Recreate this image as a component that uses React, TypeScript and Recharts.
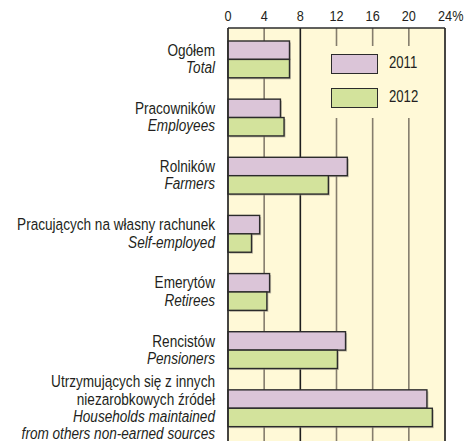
import React from "react";
import {
  BarChart,
  Bar,
  XAxis,
  YAxis,
  CartesianGrid,
  ReferenceLine,
  Legend,
} from "recharts";

const categories = [
  "total",
  "employees",
  "farmers",
  "selfEmployed",
  "retirees",
  "pensioners",
  "others",
];

const labelsPl = [
  ["Ogółem"],
  ["Pracowników"],
  ["Rolników"],
  ["Pracujących na własny rachunek"],
  ["Emerytów"],
  ["Rencistów"],
  ["Utrzymujących się z innych", "niezarobkowych źródeł"],
];

const labelsEn = [
  ["Total"],
  ["Employees"],
  ["Farmers"],
  ["Self-employed"],
  ["Retirees"],
  ["Pensioners"],
  ["Households maintained", "from others non-earned sources"],
];

const values2011 = [6.8, 5.8, 13.2, 3.5, 4.6, 13.0, 22.0];
const values2012 = [6.8, 6.2, 11.1, 2.6, 4.3, 12.1, 22.6];

const xTicks = [0, 4, 8, 12, 16, 20, 24];

const data = categories.map((name, i) => ({
  name,
  y2011: values2011[i],
  y2012: values2012[i],
}));

// no narrow font installed, so squeeze Liberation Sans horizontally
const FONT = '"Liberation Sans", Arial, sans-serif';
const NARROW = 0.82;
const TEXT = "#231f20";
const PLOT_BG = "#fff9d7";

const squeeze = (x: number) => `translate(${x},0) scale(${NARROW},1) translate(${-x},0)`;

function XTick(props: any) {
  const { x, y, payload } = props;
  const last = payload.value === xTicks[xTicks.length - 1];
  return (
    <g transform={squeeze(x)}>
      <text x={x} y={y + 1} textAnchor="middle" fontFamily={FONT} fontSize={15.5} fill={TEXT}>
        {payload.value}
      </text>
      {last && (
        <text x={x + 9} y={y + 1} textAnchor="start" fontFamily={FONT} fontSize={15.5} fill={TEXT}>
          %
        </text>
      )}
    </g>
  );
}

function YTick(props: any) {
  const { x, y, payload } = props;
  const i = categories.indexOf(payload.value);
  const lines = [
    ...labelsPl[i].map((t) => ({ t, italic: false })),
    ...labelsEn[i].map((t) => ({ t, italic: true })),
  ];
  const step = 17.3;
  return (
    <text
      x={x}
      y={y}
      textAnchor="end"
      fontFamily={FONT}
      fontSize={16.6}
      fill={TEXT}
      transform={squeeze(x)}
    >
      {lines.map((l, k) => (
        <tspan
          key={k}
          x={x}
          y={y + (k - (lines.length - 1) / 2) * step + 5.5}
          fontStyle={l.italic ? "italic" : "normal"}
        >
          {l.t}
        </tspan>
      ))}
    </text>
  );
}

function GridLine(props: any) {
  const { x1, y1, x2, y2, index } = props;
  const strong = index === xTicks.indexOf(8);
  return (
    <line
      x1={x1}
      y1={y1}
      x2={x2}
      y2={y2}
      stroke={strong ? "#1e1e1e" : "#857d6d"}
      strokeWidth={1.6}
    />
  );
}

function ShadowBar(props: any) {
  const { x, y, width, height, fill } = props;
  return (
    <g>
      <rect x={x + 1.5} y={y + 1.5} width={width} height={height} fill="#9b9486" opacity={0.55} />
      <rect x={x} y={y} width={width} height={height} fill={fill} stroke="#2b2b2b" strokeWidth={1.4} />
    </g>
  );
}

function LegendBox(props: any) {
  const { payload } = props;
  return (
    <div
      style={{
        position: "relative",
        width: 114,
        height: 72,
        background: PLOT_BG,
      }}
    >
      {(payload || []).map((p: any, k: number) => (
        <div key={k}>
          <div
            style={{
              position: "absolute",
              left: 2,
              top: 8 + k * 34,
              width: 45,
              height: 18,
              background: p.color,
              border: "1px solid #2b2b2b",
            }}
          />
          <div
            style={{
              position: "absolute",
              left: 60,
              top: 7 + k * 34,
              lineHeight: "20px",
              fontFamily: FONT,
              fontSize: 16,
              color: TEXT,
              transform: `scaleX(${NARROW})`,
              transformOrigin: "left center",
            }}
          >
            {p.value}
          </div>
        </div>
      ))}
    </div>
  );
}

export default function App() {
  return (
    <div style={{ position: "absolute", left: 0, top: 0, width: 467, height: 441, background: "#fff" }}>
      <BarChart
        width={467}
        height={441}
        data={data}
        layout="vertical"
        margin={{ top: 0, right: 22, bottom: 0, left: 0 }}
        barGap={0}
        barSize={18.4}
      >
        <CartesianGrid horizontal={false} fill={PLOT_BG} vertical={<GridLine />} />
        <XAxis
          type="number"
          orientation="top"
          domain={[0, 24]}
          ticks={xTicks}
          height={28}
          axisLine={{ stroke: "#2b2b2b", strokeWidth: 1.5 }}
          tickLine={false}
          tick={<XTick />}
          interval={0}
        />
        <YAxis
          type="category"
          dataKey="name"
          width={228}
          axisLine={{ stroke: "#2b2b2b", strokeWidth: 1.5 }}
          tickLine={false}
          tickSize={0}
          tickMargin={13}
          padding={{ top: 2, bottom: 4 }}
          tick={<YTick />}
          interval={0}
        />
        <ReferenceLine x={24} stroke="#2b2b2b" strokeWidth={1.5} />
        <Legend
          layout="vertical"
          align="center"
          verticalAlign="middle"
          content={<LegendBox />}
          wrapperStyle={{ position: "absolute", left: 329, top: 46, width: 114, height: 72 }}
        />
        <Bar dataKey="y2011" name="2011" fill="#dbc5d8" shape={<ShadowBar />} isAnimationActive={false} />
        <Bar dataKey="y2012" name="2012" fill="#d3e39c" shape={<ShadowBar />} isAnimationActive={false} />
      </BarChart>
    </div>
  );
}
